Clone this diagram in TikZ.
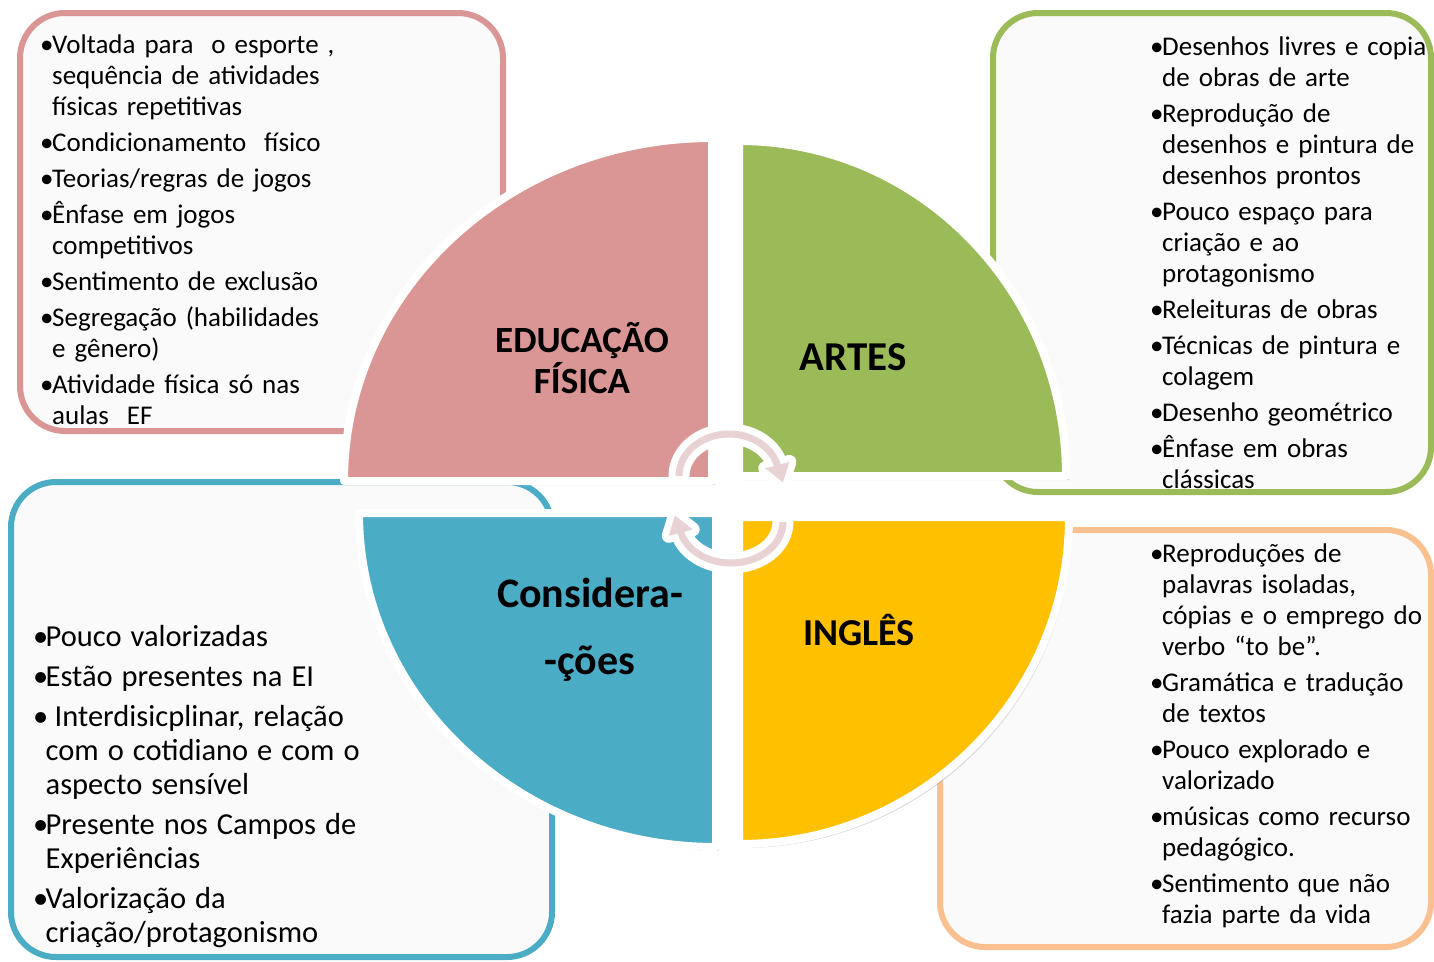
\documentclass[tikz,border=0pt]{standalone}
\usepackage{fontspec}
\setmainfont{Carlito}
\usetikzlibrary{shadows}

\definecolor{edupink}{HTML}{D99694}
\definecolor{artgreen}{HTML}{9BBB59}
\definecolor{consblue}{HTML}{4BACC6}
\definecolor{ingyellow}{HTML}{FFC000}
\definecolor{ingorange}{HTML}{FAC090}
\definecolor{boxfill}{HTML}{FAFAFA}
\definecolor{turnpink}{HTML}{E8D2D3}

\newlength\bhang
\newcommand\nl{\hfil\break}
\newcommand\bitem[1]{\hangindent=\bhang\hangafter=1\noindent\makebox[\bhang][l]{•}#1\par}

\tikzset{
  listbox/.style={line width=6pt, rounded corners=45pt, fill=boxfill},
  quarter/.style={draw=white, line width=8pt, line join=round,
    drop shadow={shadow xshift=3pt, shadow yshift=-4pt, opacity=0.3}},
  title/.style={font=\fontsize{37}{41}\selectfont\bfseries, align=center, inner sep=0pt},
  listtext/.style={anchor=base west, inner sep=0pt, text width=420pt,
    font=\fontsize{27}{31}\selectfont},
  turn/.style={preaction={draw=white, line width=14pt, line join=round}, fill=turnpink}
}

\begin{document}
\begin{tikzpicture}[x=1pt, y=-1pt]
    \useasboundingbox (0,0) rectangle (1434,961);
    \clip (0,0) rectangle (1434,961);

    % boxes
    \draw[listbox, draw=edupink] (20,13) rectangle (503,431);
    \draw[listbox, draw=artgreen] (993,13) rectangle (1431,492);
    \draw[listbox, draw=consblue] (11,482) rectangle (552,957);
    \draw[listbox, draw=ingorange] (940,530) rectangle (1431,947);

    % quarters of the circle
    \path[quarter, fill=edupink] (712,481) -- (712,138)
        arc[start angle=270, end angle=180, x radius=368, y radius=343] -- cycle;
    \path[quarter, fill=artgreen] (739,476) -- (739,141)
        arc[start angle=-90, end angle=0, x radius=327, y radius=335] -- cycle;
    \path[quarter, fill=consblue] (716,513) -- (359,513)
        arc[start angle=180, end angle=90, x radius=357, y radius=334] -- cycle;
    \path[quarter, fill=ingyellow] (739,517) -- (1069,517)
        arc[start angle=0, end angle=90, x radius=330, y radius=327] -- cycle;

    \node[title] (edu) at (582,358) {EDUCAÇÃO\\FÍSICA};
    \node[title, font=\fontsize{41}{41}\selectfont\bfseries] (artes) at (853,357) {ARTES};
    \node[title, font=\fontsize{42}{67}\selectfont\bfseries] (cons) at (590,630) {Considera-\\-ções};
    \node[title, font=\fontsize{38}{41}\selectfont\bfseries] (ingles) at (859,630) {INGLÊS};

    % turning arrows
    \path[turn] (675.5,476) arc[start angle=180, end angle=345, x radius=53.5, y radius=45.5]
        -- (789.4,461.9) -- (782.8,482.3) -- (765.2,468.3) -- (773.9,466.0)
        arc[start angle=345, end angle=180, x radius=46.5, y radius=38.5] -- cycle;
    \path[turn] (786.5,522) arc[start angle=0, end angle=165, x radius=55.5, y radius=44.5]
        -- (668.7,535.8) -- (675.0,515.6) -- (692.8,529.4) -- (684.1,531.7)
        arc[start angle=165, end angle=0, x radius=48.5, y radius=37.5] -- cycle;

    % texts
    \node[listtext] (edutxt) at (40,53) {\setlength\parskip{5pt}\setlength\bhang{12pt}%
        \bitem{Voltada para\ \ o esporte ,\nl sequência de atividades\nl físicas repetitivas}
        \bitem{Condicionamento\ \ físico}
        \bitem{Teorias/regras de jogos}
        \bitem{Ênfase em jogos\nl competitivos}
        \bitem{Sentimento de exclusão}
        \bitem{Segregação (habilidades\nl e gênero)}
        \bitem{Atividade física só nas\nl aulas\ \ EF}};
    \node[listtext] (arttxt) at (1150,55) {\setlength\parskip{5pt}\setlength\bhang{12pt}%
        \bitem{Desenhos livres e copia\nl de obras de arte}
        \bitem{Reprodução de\nl desenhos e pintura de\nl desenhos prontos}
        \bitem{Pouco espaço para\nl criação e ao\nl protagonismo}
        \bitem{Releituras de obras}
        \bitem{Técnicas de pintura e\nl colagem}
        \bitem{Desenho geométrico}
        \bitem{Ênfase em obras\nl clássicas}};
    \node[listtext] (constxt) at (33,646) {\fontsize{30.5}{34}\selectfont
        \setlength\parskip{6pt}\setlength\bhang{12.5pt}%
        \bitem{Pouco valorizadas}
        \bitem{Estão presentes na EI}
        \bitem{ Interdisicplinar, relação\nl com o cotidiano e com o\nl aspecto sensível}
        \bitem{Presente nos Campos de\nl Experiências}
        \bitem{Valorização da\nl criação/protagonismo}};
    \node[listtext] (ingtxt) at (1150,562) {\setlength\parskip{5pt}\setlength\bhang{12pt}%
        \bitem{Reproduções de\nl palavras isoladas,\nl cópias e o emprego do\nl verbo “to be”.}
        \bitem{Gramática e tradução\nl de textos}
        \bitem{Pouco explorado e\nl valorizado}
        \bitem{músicas como recurso\nl pedagógico.}
        \bitem{Sentimento que não\nl fazia parte da vida}};
\end{tikzpicture}
\end{document}
